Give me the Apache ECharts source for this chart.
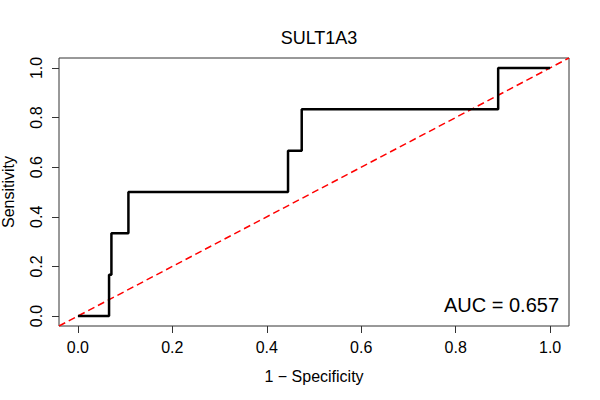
<!DOCTYPE html>
<html><head><meta charset="utf-8">
<script src="https://cdn.jsdelivr.net/npm/echarts@6/dist/echarts.min.js"></script>
<style>html,body{margin:0;padding:0;background:#fff}#c{width:600px;height:400px}</style>
</head><body><div id="c"></div>
<script>
const fpr = [0, 0.066, 0.071, 0.107, 0.445, 0.474, 0.890, 1.0];
const tpr = [0, 1/6, 2/6, 3/6, 4/6, 5/6, 1.0, 1.0];
const tickValues = [0, 0.2, 0.4, 0.6, 0.8, 1.0];
const tickLabels = ['0.0', '0.2', '0.4', '0.6', '0.8', '1.0'];
const diag = [-0.04, 1.04];
const titleText = 'SULT1A3';
const aucText = 'AUC = 0.657';

const FONT = '"Liberation Sans", Arial, Helvetica, sans-serif';
const chart = echarts.init(document.getElementById('c'), null, {renderer: 'svg'});
const fmt = v => { const i = tickValues.findIndex(t => Math.abs(t - v) < 1e-9); return i >= 0 ? tickLabels[i] : ''; };
const axisCommon = {
  type: 'value', min: -0.04, max: 1.04,
  splitLine: {show: false},
  axisLine: {show: false, onZero: false},
  axisTick: {show: true, inside: false, length: 7, customValues: tickValues, lineStyle: {color: '#333', width: 1}},
  nameLocation: 'middle',
  nameTextStyle: {fontFamily: FONT, fontSize: 16, color: '#000'}
};
chart.setOption({
  animation: false,
  title: {text: titleText, left: 314, top: 24, textAlign: 'center',
    textStyle: {fontFamily: FONT, fontSize: 18, fontWeight: 'normal', color: '#000'}},
  grid: {left: 59, right: 31, top: 58, bottom: 74, outerBoundsMode: 'none', containLabel: false,
    show: true, borderColor: '#333', borderWidth: 1, backgroundColor: 'transparent'},
  xAxis: Object.assign({}, axisCommon, {
    name: '1 − Specificity', nameGap: 42,
    axisLabel: {customValues: tickValues, formatter: fmt, margin: 13, fontFamily: FONT, fontSize: 16, color: '#000'}
  }),
  yAxis: Object.assign({}, axisCommon, {
    name: 'Sensitivity', nameGap: 43,
    axisLabel: {customValues: tickValues, formatter: fmt, margin: 15, rotate: 90, fontFamily: FONT, fontSize: 16, color: '#000'}
  }),
  graphic: [{type: 'text', right: 41, top: 295,
    style: {text: aucText, font: '20px ' + FONT, fill: '#000'}}],
  series: [
    {type: 'line', data: diag.map(v => [v, v]), symbol: 'none', silent: true,
      lineStyle: {color: '#ff0000', width: 1.5, type: [7, 4]}},
    {type: 'line', step: 'end', data: fpr.map((x, i) => [x, tpr[i]]), symbol: 'none', silent: true,
      lineStyle: {color: '#000', width: 2.5}}
  ]
});
</script></body></html>
